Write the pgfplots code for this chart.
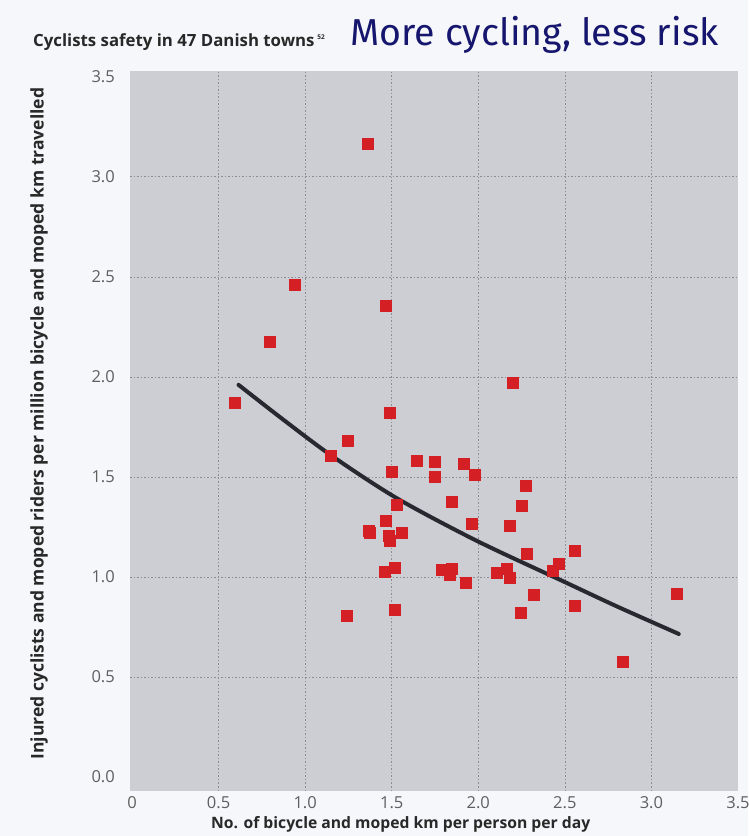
\documentclass[border=0pt]{standalone}
\usepackage{fontspec}
\setmainfont{Open Sans}
\newfontfamily\titlefont{Fira Sans}
\usepackage{pgfplots}
\pgfplotsset{compat=1.18}
\definecolor{bgpage}{RGB}{246,247,250}
\definecolor{plotgray}{RGB}{204,206,211}
\definecolor{gridgray}{RGB}{140,140,145}
\definecolor{ptred}{RGB}{212,32,36}
\definecolor{navy}{RGB}{22,22,110}
\definecolor{ticktext}{RGB}{95,95,95}
\definecolor{labeltext}{RGB}{40,40,40}
\definecolor{curve}{RGB}{40,40,48}

\pgfplotstableread{
x y
0.595 1.873
0.798 2.177
0.942 2.460
1.148 1.607
1.248 1.679
1.241 0.805
1.364 3.165
1.464 2.355
1.491 1.823
1.497 1.527
1.530 1.360
1.468 1.280
1.366 1.230
1.372 1.220
1.559 1.222
1.482 1.205
1.491 1.180
1.462 1.027
1.520 1.047
1.520 0.835
1.644 1.580
1.746 1.575
1.746 1.503
1.846 1.378
1.913 1.567
1.979 1.512
1.963 1.265
1.790 1.035
1.848 1.043
1.834 1.010
1.929 0.973
2.198 1.972
2.274 1.455
2.252 1.358
2.179 1.257
2.277 1.115
2.108 1.022
2.162 1.043
2.181 0.997
2.320 0.913
2.243 0.823
2.432 1.032
2.464 1.067
2.558 1.132
2.557 0.855
2.836 0.578
3.145 0.918
}\towns

\begin{document}
\begin{tikzpicture}[x=1pt,y=1pt]
\fill[bgpage] (0,0) rectangle (748,836);
\useasboundingbox (0,0) rectangle (748,836);
\node[anchor=base west, inner sep=0pt, text=labeltext, font=\bfseries\fontsize{16.8}{18}\selectfont] at (33,789) {Cyclists safety in 47 Danish towns\,\raisebox{0.45em}{\fontsize{6.5}{7}\selectfont 52}};
\node[anchor=base west, inner sep=0pt, text=navy, font=\titlefont\fontsize{37.5}{40}\selectfont] at (350,790) {More cycling, less risk};
\begin{axis}[
  at={(130.3pt,45pt)}, anchor=south west,
  scale only axis, width=607.7pt, height=720.3pt,
  xmin=-0.01, xmax=3.5, ymin=-0.07, ymax=3.53,
  axis background/.style={fill=plotgray},
  axis line style={draw=none},
  xtick={0,0.5,1,1.5,2,2.5,3,3.5},
  ytick={0,0.5,1,1.5,2,2.5,3,3.5},
  xticklabels={0,0.5,1.0,1.5,2.0,2.5,3.0,3.5},
  yticklabels={0.0,0.5,1.0,1.5,2.0,2.5,3.0,3.5},
  major tick length=0pt, minor tick length=0pt,
  minor xtick={0.5,1,1.5,2,2.5,3},
  minor ytick={0.5,1,1.5,2,2.5,3},
  grid=minor,
  minor grid style={gridgray, dash pattern=on 1.5pt off 2pt, line width=0.5pt},
  tick label style={font=\fontsize{16.5}{18}\selectfont, text=ticktext},
  yticklabel style={xshift=-12pt},
  xticklabel style={yshift=-2pt},
  xlabel={No. of bicycle and moped km per person per day},
  ylabel={Injured cyclists and moped riders per million bicycle and moped km travelled},
  xlabel style={font=\bfseries\fontsize{15.7}{17}\selectfont, text=labeltext, at={(axis description cs:0.445,-0.047)}, anchor=center},
  ylabel style={font=\bfseries\fontsize{17.5}{19}\selectfont, text=labeltext, at={(axis description cs:-0.15,0.51)}, anchor=center},
]
\addplot[only marks, mark=square*, mark size=5.5pt, color=ptred, mark options={draw=ptred, fill=ptred}] table[x=x, y=y] {\towns};
\addplot[smooth, line width=4pt, color=curve, line cap=round] coordinates {
(0.615,1.960) (0.875,1.785) (1.154,1.605) (1.530,1.393) (1.992,1.180) (2.493,0.977) (2.802,0.852) (3.158,0.715)
};
\end{axis}
\end{tikzpicture}
\end{document}
